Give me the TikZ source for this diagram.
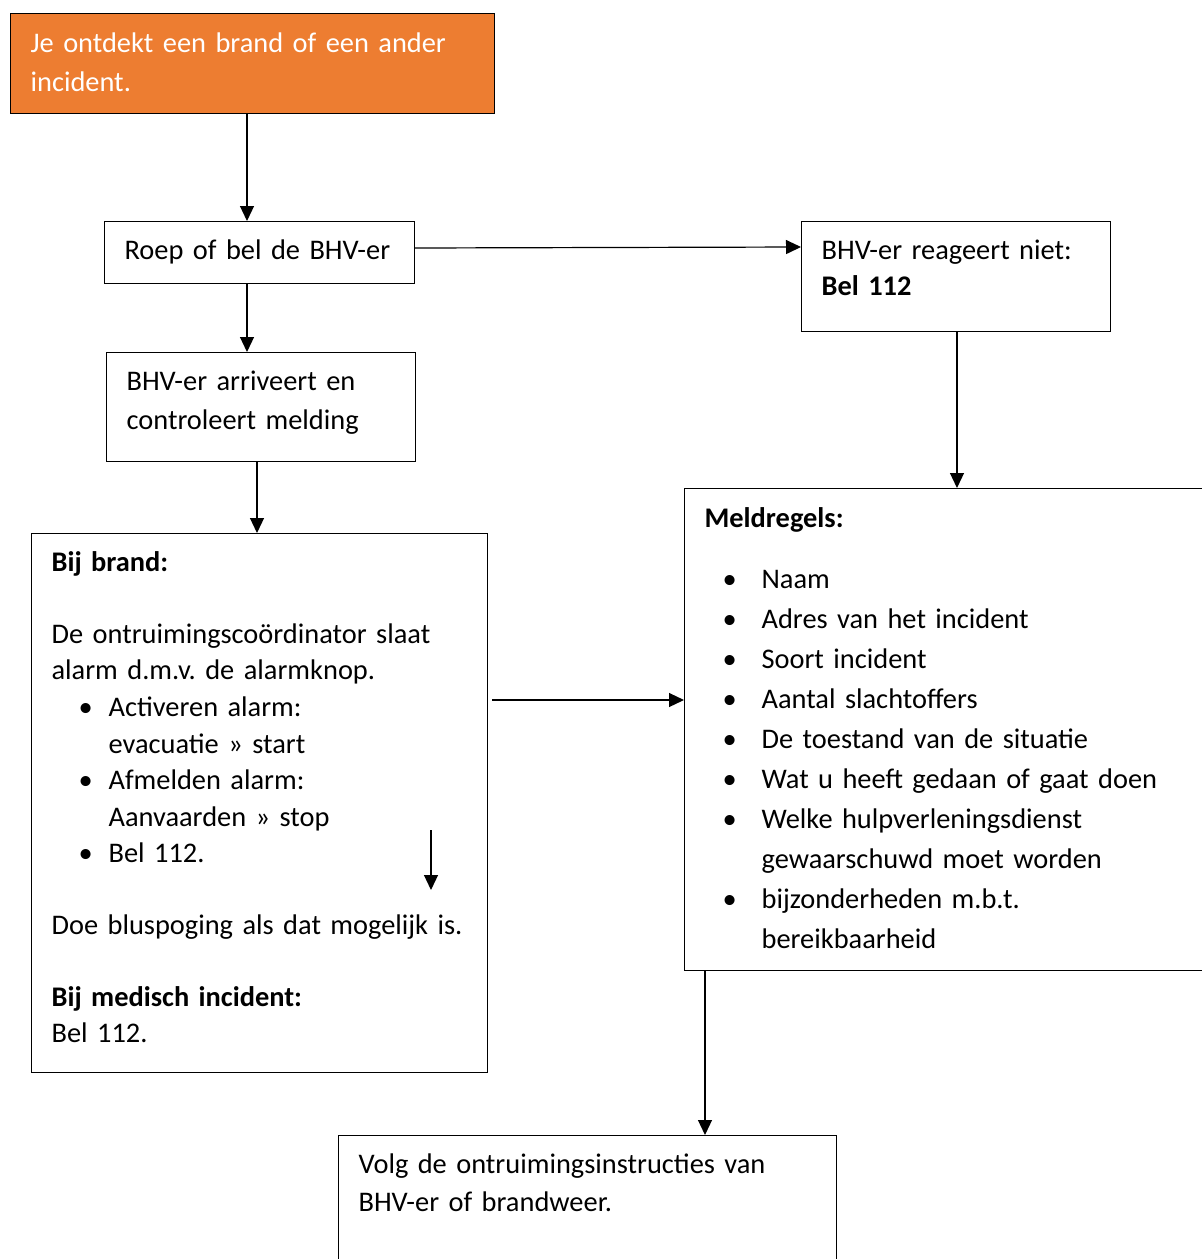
\documentclass[tikz,border=0pt]{standalone}
\usepackage{fontspec}
\setmainfont{Carlito}
\usepackage{tikz}
\usetikzlibrary{arrows.meta}
\definecolor{brandoranje}{HTML}{ED7D31}
\newcommand{\bul}[2]{\makebox[28.5pt][l]{\hspace*{#1}\textbullet}#2}
\newcommand{\verder}[1]{\hspace*{28.5pt}#1}
\frenchspacing

\begin{document}
\begin{tikzpicture}[->,>={Triangle[length=7.5pt,width=7pt]},x=0.5pt,y=-0.5pt,
                    line width=0.6pt]
  \tikzstyle{box}=[rectangle,draw=black,fill=white,anchor=north west,
                   inner xsep=10pt,inner ysep=0pt,align=left,text=black,
                   font=\fontsize{14.2pt}{18pt}\selectfont]
  \useasboundingbox (0,0) rectangle (1202,1259);

  \node[box,fill=brandoranje,text=white,text width=222pt,text height=19.5pt,text depth=30.5pt,
        font=\fontsize{14.2pt}{19.5pt}\selectfont] (O) at (10,13)
        {Je ontdekt een brand of een ander\\incident.};
  \node[box,text width=135pt,text height=19pt,text depth=12pt] (R) at (104,221)
        {Roep of bel de BHV-er};
  \node[box,text width=134.5pt,text height=19pt,text depth=35.5pt,
        font=\fontsize{14.2pt}{19.5pt}\selectfont] (A) at (106,352)
        {BHV-er arriveert en\\controleert melding};
  \node[box,text width=208pt,text height=19pt,text depth=250.5pt] (B) at (31,533)
        {{\bfseries Bij brand:}\\[18pt]
         De ontruimingscoördinator slaat\\
         alarm d.m.v. de alarmknop.\\[0.4pt]
         \bul{13.5pt}{Activeren alarm:}\\[0.3pt]
         \verder{evacuatie » start}\\[0.3pt]
         \bul{13.5pt}{Afmelden alarm:}\\[0.3pt]
         \verder{Aanvaarden » stop}\\[0.3pt]
         \bul{13.5pt}{Bel 112.}\\[18pt]
         Doe bluspoging als dat mogelijk is.\\[18pt]
         {\bfseries Bij medisch incident:}\\
         Bel 112.};
  \node[box,text width=134.5pt,text height=19pt,text depth=36pt] (N) at (801,221)
        {BHV-er reageert niet:\\{\bfseries Bel 112}};
  \node[box,text width=243pt,text height=19.5pt,text depth=221.5pt,
        font=\fontsize{14.2pt}{20pt}\selectfont] (M) at (684,488)
        {{\bfseries Meldregels:}\\[10.5pt]
         \bul{9pt}{Naam}\\
         \bul{9pt}{Adres van het incident}\\
         \bul{9pt}{Soort incident}\\
         \bul{9pt}{Aantal slachtoffers}\\
         \bul{9pt}{De toestand van de situatie}\\
         \bul{9pt}{Wat u heeft gedaan of gaat doen}\\
         \bul{9pt}{Welke hulpverleningsdienst}\\
         \verder{gewaarschuwd moet worden}\\
         \bul{9pt}{bijzonderheden m.b.t.}\\
         \verder{bereikbaarheid}};
  \node[box,text width=229pt,text height=19pt,text depth=60pt,
        font=\fontsize{14.2pt}{19pt}\selectfont] (V) at (338,1135)
        {Volg de ontruimingsinstructies van\\BHV-er of brandweer.};

  \coordinate (s1) at (431,830);
  \coordinate (s2) at (431,890);

  \draw (O.south -| 247,0) -- (R.north -| 247,0);
  \draw (R.south -| 247,0) -- (A.north -| 247,0);
  \draw (A.south -| 257,0) -- (B.north -| 257,0);
  \draw (R.east |- 0,248) -- (N.west |- 0,247);
  \draw (N.south -| 957,0) -- (M.north -| 957,0);
  \draw[shorten <=2pt] (B.east |- 0,700) -- (M.west |- 0,700);
  \draw (M.south -| 705,0) -- (V.north -| 705,0);
  \draw (s1) -- (s2);
\end{tikzpicture}
\end{document}
